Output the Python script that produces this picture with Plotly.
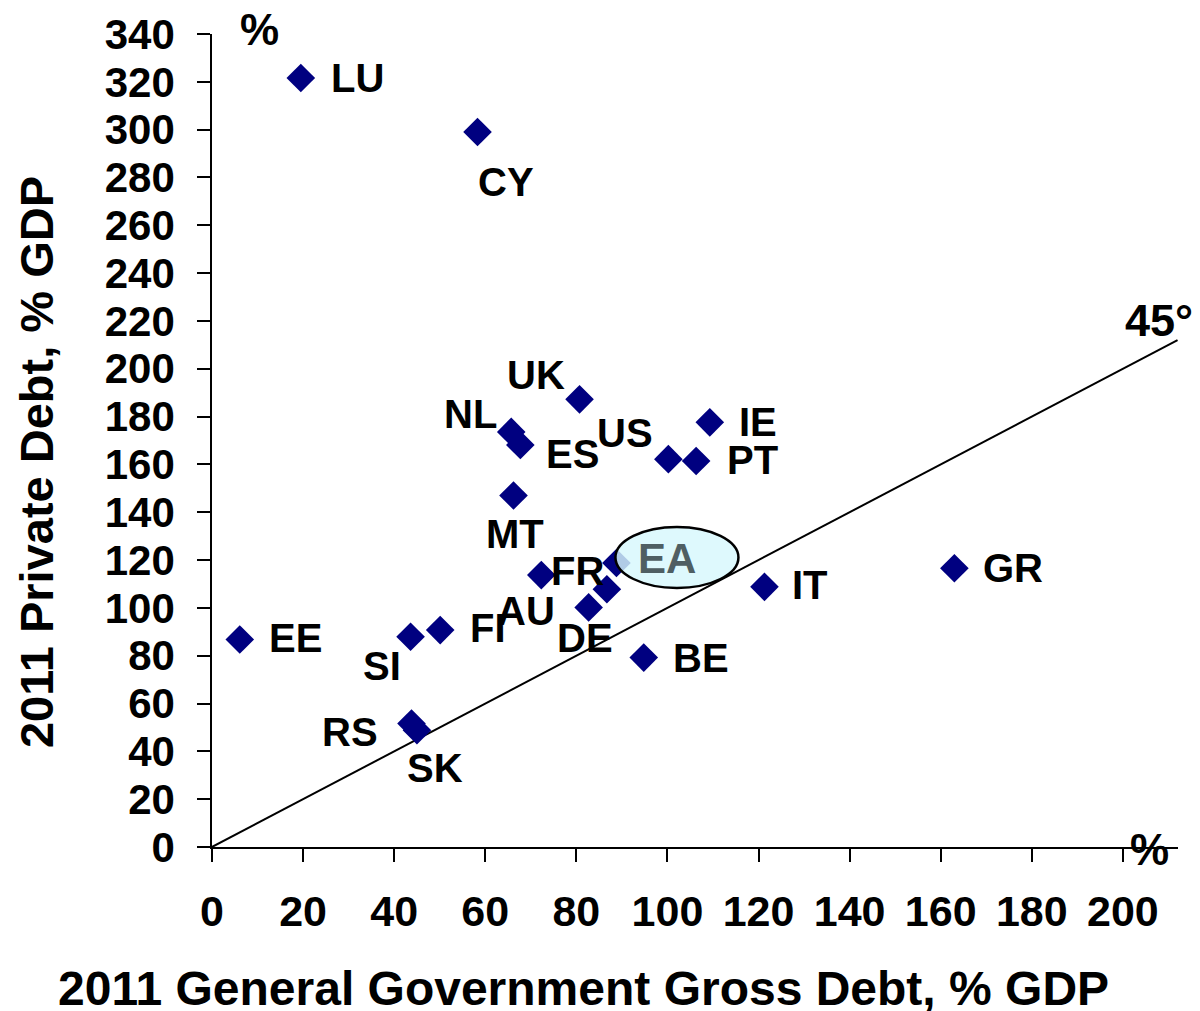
import plotly.graph_objects as go

# ---- data ----
countries = ["LU", "CY", "UK", "NL", "ES", "US", "PT", "IE", "MT", "AU", "FR", "EA",
             "DE", "BE", "IT", "GR", "EE", "SI", "FI", "RS", "SK"]
gov_debt = [19.5, 58.3, 80.7, 65.7, 67.7, 100.2, 106.3, 109.3, 66.2, 72.3, 86.7, 88.8,
            82.7, 94.8, 121.3, 163.0, 6.1, 43.6, 50.1, 43.8, 45.0]
private_debt = [321.6, 299.0, 187.2, 173.6, 168.1, 162.2, 161.4, 177.6, 147.0, 113.7, 107.8, 118.8,
                100.2, 79.2, 108.8, 116.6, 86.8, 87.9, 90.7, 51.6, 48.8]
x_ticks = [0, 20, 40, 60, 80, 100, 120, 140, 160, 180, 200]
y_ticks = [0, 20, 40, 60, 80, 100, 120, 140, 160, 180, 200, 220, 240, 260, 280, 300, 320, 340]
diag_x = [0, 212]
diag_y = [0, 212]

# label offsets in pixels (dx right, dy up)
label_offsets = {
    "LU": (57, 0), "CY": (28, -50), "UK": (-44, 24), "NL": (-41, 18), "ES": (52, -9),
    "US": (-43, 26), "PT": (56, 1), "IE": (48, 0), "MT": (1, -38), "AU": (-15, -36),
    "FR": (-29, 18), "DE": (-4, -31), "BE": (57, 0), "IT": (46, 2), "GR": (59, 0),
    "EE": (56, 1), "SI": (-29, -29), "FI": (48, 2), "RS": (-61, -8), "SK": (18, -38),
}

FONT = "Liberation Sans, Arial, sans-serif"

fig = go.Figure()
fig.add_trace(go.Scatter(x=diag_x, y=diag_y, mode="lines",
                         line=dict(color="black", width=2), hoverinfo="skip", showlegend=False))
fig.add_trace(go.Scatter(x=gov_debt, y=private_debt, mode="markers",
                         marker=dict(symbol="diamond", size=22, color="#000080",
                                     line=dict(width=0)),
                         text=countries, cliponaxis=False, showlegend=False))

annotations = []
for c, xv, yv in zip(countries, gov_debt, private_debt):
    if c == "EA":
        continue
    dx, dy = label_offsets[c]
    annotations.append(dict(x=xv, y=yv, xref="x", yref="y", text=c, showarrow=False,
                            xshift=dx, yshift=dy, xanchor="center", yanchor="middle",
                            font=dict(family=FONT, size=40, color="black", weight="bold")))

ea_i = countries.index("EA")
fig.add_shape(type="circle", xref="x", yref="y", xsizemode="pixel", ysizemode="pixel",
              xanchor=gov_debt[ea_i], yanchor=private_debt[ea_i],
              x0=-1, x1=122, y0=-25, y1=36,
              line=dict(color="black", width=2.5), fillcolor="rgba(215,248,252,0.82)",
              layer="above")
annotations.append(dict(x=gov_debt[ea_i], y=private_debt[ea_i], xref="x", yref="y", text="EA",
                        showarrow=False, xshift=51, yshift=4,
                        font=dict(family=FONT, size=42, color="#4f5f63", weight="bold")))

# axis titles and decorations
annotations += [
    dict(x=-0.1822, y=0.4734, xref="paper", yref="paper", text="2011 Private Debt, % GDP",
         textangle=-90, showarrow=False, xanchor="center", yanchor="middle",
         font=dict(family=FONT, size=47, color="black", weight="bold")),
    dict(x=0.385, y=-0.1735, xref="paper", yref="paper",
         text="2011 General Government Gross Debt, % GDP",
         showarrow=False, xanchor="center", yanchor="middle",
         font=dict(family=FONT, size=48, color="black", weight="bold")),
    dict(x=0.0487, y=1.0055, xref="paper", yref="paper", text="%", showarrow=False,
         xanchor="center", yanchor="middle",
         font=dict(family=FONT, size=44, color="black", weight="bold")),
    dict(x=0.970, y=-0.0034, xref="paper", yref="paper", text="%", showarrow=False,
         xanchor="center", yanchor="middle",
         font=dict(family=FONT, size=44, color="black", weight="bold")),
    dict(x=0.9805, y=0.648, xref="paper", yref="paper", text="45°", showarrow=False,
         xanchor="center", yanchor="middle",
         font=dict(family=FONT, size=45, color="black", weight="bold")),
]

# the page adds an 8px body margin, so the figure is sized/offset to compensate
fig.update_layout(
    width=1192, height=1003,
    margin=dict(l=204, r=22, t=26, b=164, autoexpand=False),
    paper_bgcolor="white", plot_bgcolor="white",
    showlegend=False,
    annotations=annotations,
    xaxis=dict(range=[0, 212.1], tickvals=x_ticks, ticktext=[str(v) for v in x_ticks],
               automargin=False,
               showgrid=False, zeroline=False, showline=True, linecolor="black", linewidth=1.5,
               ticks="outside", ticklen=13, tickwidth=1.5, tickcolor="black",
               ticklabelstandoff=13,
               tickfont=dict(family=FONT, size=43, color="black", weight="bold")),
    yaxis=dict(range=[0, 340], tickvals=y_ticks, ticktext=[str(v) for v in y_ticks],
               automargin=False,
               showgrid=False, zeroline=False, showline=True, linecolor="black", linewidth=1.5,
               ticks="outside", ticklen=13, tickwidth=1.5, tickcolor="black",
               ticklabelstandoff=14,
               tickfont=dict(family=FONT, size=42, color="black", weight="bold")),
)

fig.write_html("out.html")
